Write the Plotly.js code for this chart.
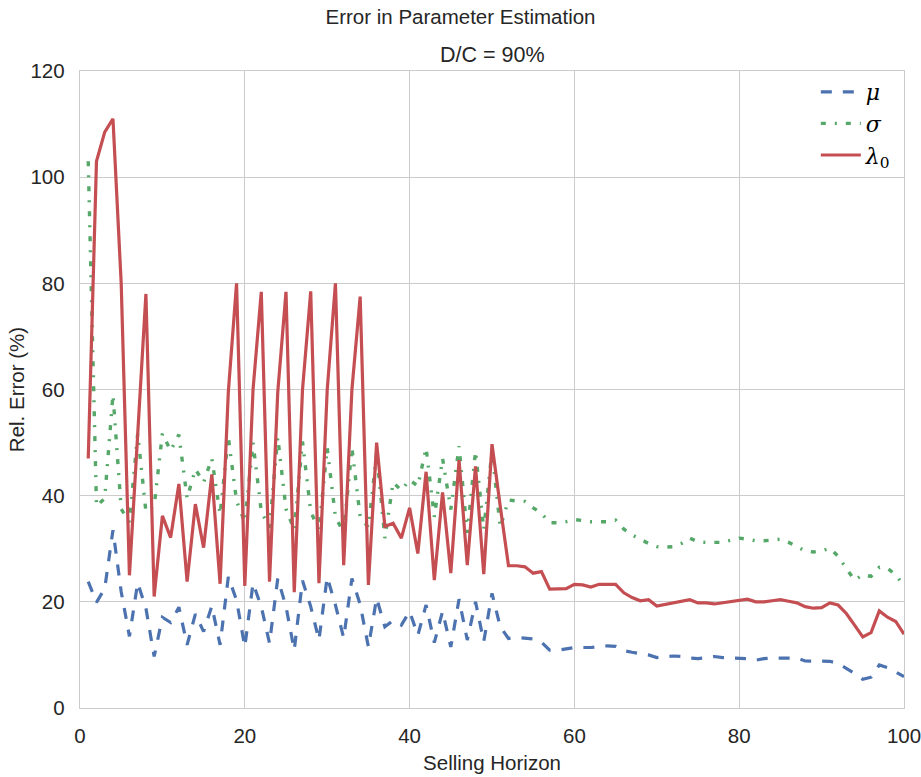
<!DOCTYPE html>
<html>
<head>
<meta charset="utf-8">
<script src="https://cdn.plot.ly/plotly-3.0.1.min.js"></script>
<style>html,body{margin:0;padding:0;background:#fff;}#chart{width:921px;height:777px;}</style>
</head>
<body>
<div id="chart"></div>
<script>
const horizon = Array.from({length: 100}, (_, i) => i + 1);

const muError = [
  23.8, 19.9, 22.5, 33.5, 21.9, 13.5, 23.6, 18.8, 9.7, 17.1,
  16.1, 19.0, 11.9, 17.7, 14.4, 19.2, 11.9, 24.7, 20.3, 11.5,
  23.5, 19.1, 12.2, 24.4, 19.1, 10.9, 24.0, 19.1, 12.8, 24.7,
  19.4, 13.2, 24.4, 19.5, 11.5, 20.7, 15.3, 16.5, 15.6, 18.2,
  13.7, 19.4, 12.3, 18.2, 11.5, 20.5, 12.8, 20.0, 12.5, 21.6,
  15.3, 13.1, 13.3, 13.1, 13.0, 12.4, 10.9, 10.9, 11.2, 11.4,
  11.4, 11.4, 11.6, 11.7, 11.6, 10.8, 10.5, 10.3, 10.0, 9.5,
  9.7, 9.8, 9.7, 9.4, 9.3, 9.5, 9.7, 9.5, 9.4, 9.4,
  9.3, 9.0, 9.3, 9.4, 9.4, 9.4, 9.4, 8.85, 8.8, 8.85,
  8.8, 8.4, 7.5, 6.5, 5.4, 5.8, 8.1, 7.6, 6.8, 5.9
];

const sigmaError = [
  103, 38, 39.5, 59, 37.5, 35, 51.7, 37, 38, 51.7,
  48.5, 51.5, 39.5, 45, 42.5, 47, 36.5, 51, 39, 35,
  50, 37, 34, 51, 37.5, 33.5, 50.2, 37, 33.5, 49,
  36, 33, 49, 36, 34, 48, 32, 42.5, 41, 43,
  41.8, 49, 36, 47, 37.4, 49.3, 33, 48.4, 33.6, 48.5,
  34, 39.2, 39.0, 38.9, 37.7, 36.7, 34.9, 34.9, 35.1, 35.5,
  35.3, 35.1, 35.1, 35.1, 35.4, 33.7, 32.6, 31.8, 31.0, 30.4,
  30.3, 30.4, 31.0, 32.0, 31.3, 31.2, 31.2, 31.2, 31.6, 32.0,
  31.8, 31.5, 31.5, 31.6, 31.8, 31.2, 30.4, 29.6, 29.4, 29.6,
  30.1, 28.6, 26.3, 24.1, 25.1, 24.8, 26.5, 26.3, 25.1, 23.0
];

const lambdaError = [
  47, 103, 108.5, 111, 80, 25, 51.5, 78, 21, 36.2,
  32.1, 42.2, 23.8, 38.4, 30.2, 44, 23.4, 59.5, 80, 23,
  60, 78.4, 23.8, 59.5, 78.4, 21.8, 59.9, 78.5, 23.5, 59.9,
  80, 26.9, 60, 77.5, 23.2, 50, 34.2, 34.8, 32, 37.7,
  29.1, 44.5, 24.1, 40.6, 25.4, 46.7, 26.9, 45.5, 25.2, 49.7,
  38, 26.8, 26.8, 26.6, 25.4, 25.7, 22.4, 22.5, 22.5, 23.3,
  23.2, 22.8, 23.3, 23.3, 23.3, 21.7, 20.8, 20.2, 20.4, 19.2,
  19.5, 19.8, 20.0, 20.4, 19.8, 19.8, 19.6, 19.8, 20.0, 20.2,
  20.5, 20.0, 20.0, 20.2, 20.4, 20.1, 19.8, 19.1, 18.8, 18.9,
  19.8, 19.4, 17.8, 15.6, 13.4, 14.2, 18.3, 17.1, 16.3, 13.9
];

const seriesNames = ['<i>μ</i>', '<i>σ</i>', '<i>λ</i><sub>0</sub>'];
const xTicks = [0, 20, 40, 60, 80, 100];
const yTicks = [0, 20, 40, 60, 80, 100, 120];

const textColor = '#262626';
const gridColor = '#cccccc';
const baseFont = 'Liberation Sans, Arial, sans-serif';
const fs = 20.5;

const traces = [
  {x: horizon, y: muError, name: seriesNames[0], mode: 'lines',
   line: {color: '#4C72B0', width: 3.2, dash: '11px,11px'}},
  {x: horizon, y: sigmaError, name: seriesNames[1], mode: 'lines',
   line: {color: '#55A868', width: 3.4, dash: '5px,9px,2px,9px'}},
  {x: horizon, y: lambdaError, name: seriesNames[2], mode: 'lines',
   line: {color: '#C44E52', width: 3.2}}
];

const layout = {
  width: 921, height: 777,
  margin: {l: 80, r: 17, t: 71, b: 69, pad: 0},
  paper_bgcolor: '#ffffff', plot_bgcolor: '#ffffff',
  font: {family: baseFont, size: fs, color: textColor},
  title: {text: 'Error in Parameter Estimation', font: {family: baseFont, size: fs, color: textColor},
          x: 0.5, xref: 'container', xanchor: 'center', y: 1 - 17/777, yref: 'container', yanchor: 'middle'},
  annotations: [{text: 'D/C = 90%', xref: 'paper', yref: 'paper', x: 0.5, y: 1 + 16/637,
                 xanchor: 'center', yanchor: 'middle', showarrow: false,
                 font: {family: baseFont, size: 21.5, color: textColor}}],
  xaxis: {range: [0, 100], tickvals: xTicks, ticktext: xTicks.map(String),
          showgrid: true, gridcolor: gridColor, gridwidth: 1.3, zeroline: false,
          showline: true, linecolor: gridColor, linewidth: 1.3, mirror: true,
          ticks: '', ticklabelstandoff: 9, ticklabeloverflow: 'allow',
          title: {text: 'Selling Horizon', font: {family: baseFont, size: fs, color: textColor}, standoff: 9}},
  yaxis: {range: [0, 120], tickvals: yTicks, ticktext: yTicks.map(String),
          showgrid: true, gridcolor: gridColor, gridwidth: 1.3, zeroline: false,
          showline: true, linecolor: gridColor, linewidth: 1.3, mirror: true,
          ticks: '', ticklabelstandoff: 10, ticklabeloverflow: 'allow',
          title: {text: 'Rel. Error (%)', font: {family: baseFont, size: fs, color: textColor}, standoff: 0}},
  showlegend: true,
  legend: {x: 0.893, y: 1.0, xanchor: 'left', yanchor: 'top', bgcolor: 'rgba(0,0,0,0)',
           borderwidth: 0, itemwidth: 40, font: {family: 'DejaVu Serif, serif', size: 22, color: '#000'},
           tracegroupgap: 0}
};

Plotly.newPlot('chart', traces, layout, {displayModeBar: false, staticPlot: true});
</script>
</body>
</html>
